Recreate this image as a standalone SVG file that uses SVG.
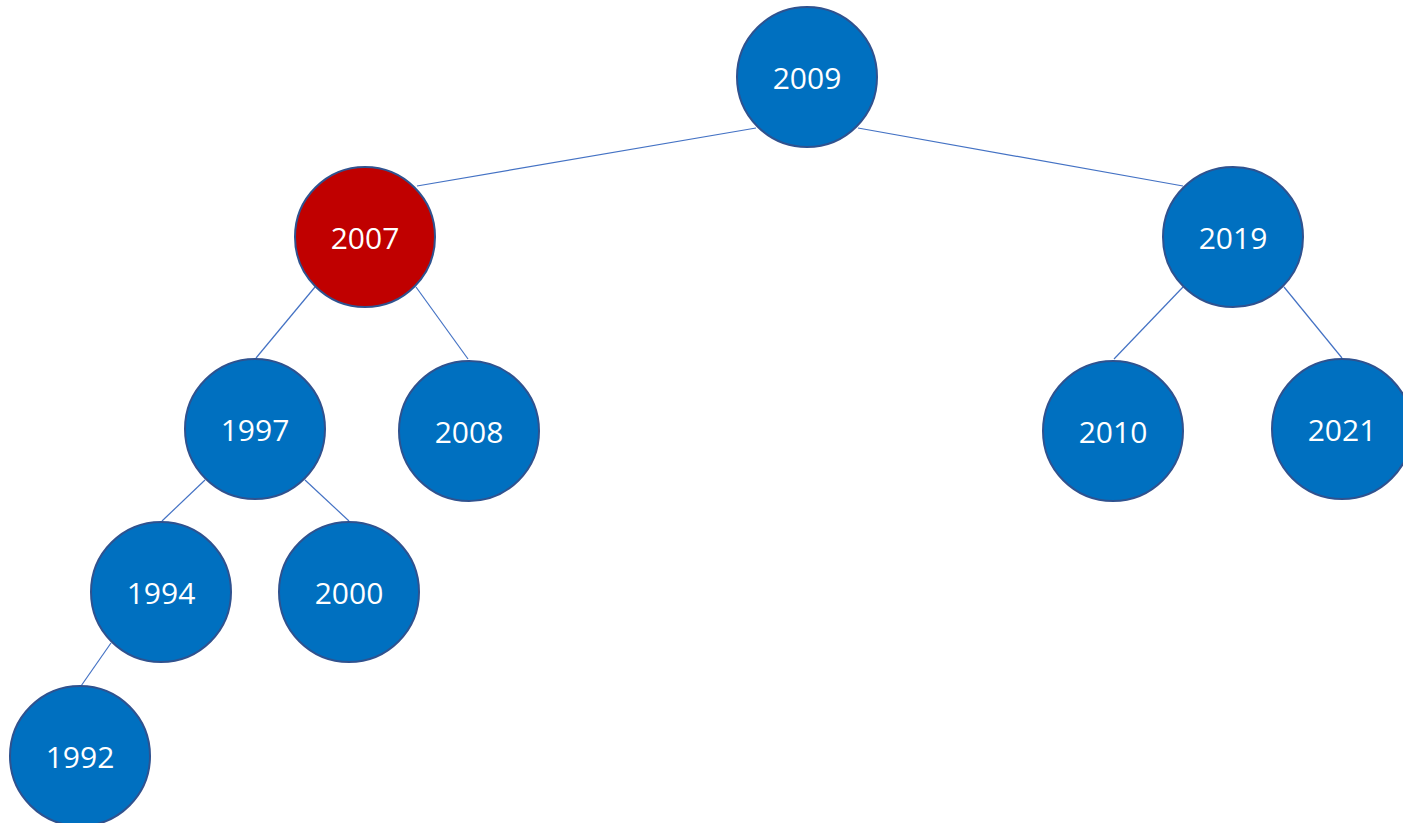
<svg xmlns="http://www.w3.org/2000/svg" width="1403" height="823" viewBox="0 0 1403 823">
<style>
.n{fill:#0070C0;stroke:#2F528F;stroke-width:2}
.r{fill:#C00000}
.t{fill:#fff;font-family:"Open Sans","Noto Sans",sans-serif;font-size:30px;text-anchor:middle;dominant-baseline:central}
.e{stroke:#4472C4;stroke-width:1.2;fill:none}
</style>
<rect width="1403" height="823" fill="#fff"/>
<g id="edges">
<line class="e" x1="756" y1="128" x2="417" y2="186"/>
<line class="e" x1="858" y1="128" x2="1183" y2="186"/>
<line class="e" x1="315" y1="287" x2="256" y2="358"/>
<line class="e" x1="416" y1="287" x2="468" y2="359"/>
<line class="e" x1="1183" y1="287" x2="1114" y2="359"/>
<line class="e" x1="1284" y1="287" x2="1342" y2="358"/>
<line class="e" x1="205" y1="480" x2="162" y2="521"/>
<line class="e" x1="305" y1="480" x2="349" y2="521"/>
<line class="e" x1="111" y1="643" x2="81" y2="686"/>
</g>
<g id="n2009"><circle class="n" cx="807" cy="77" r="70"/><text class="t" x="807" y="77">2009</text></g>
<g id="n2007"><circle class="n r" cx="365" cy="237" r="70"/><text class="t" x="365" y="237">2007</text></g>
<g id="n2019"><circle class="n" cx="1233" cy="237" r="70"/><text class="t" x="1233" y="237">2019</text></g>
<g id="n1997"><circle class="n" cx="255" cy="429" r="70"/><text class="t" x="255" y="429">1997</text></g>
<g id="n2008"><circle class="n" cx="469" cy="431" r="70"/><text class="t" x="469" y="431">2008</text></g>
<g id="n2010"><circle class="n" cx="1113" cy="431" r="70"/><text class="t" x="1113" y="431">2010</text></g>
<g id="n2021"><circle class="n" cx="1342" cy="429" r="70"/><text class="t" x="1342" y="429">2021</text></g>
<g id="n1994"><circle class="n" cx="161" cy="592" r="70"/><text class="t" x="161" y="592">1994</text></g>
<g id="n2000"><circle class="n" cx="349" cy="592" r="70"/><text class="t" x="349" y="592">2000</text></g>
<g id="n1992"><circle class="n" cx="80" cy="756" r="70"/><text class="t" x="80" y="756">1992</text></g>
</svg>
